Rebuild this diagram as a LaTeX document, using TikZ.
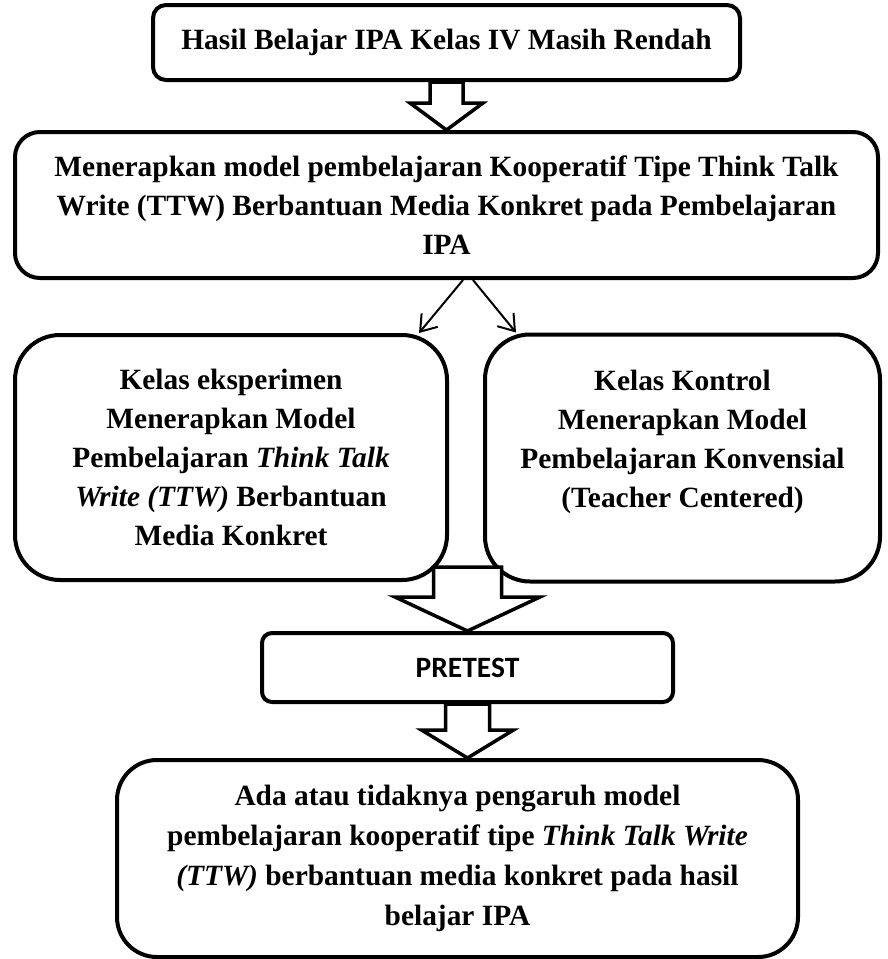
\documentclass[tikz,border=0pt]{standalone}
\usepackage{fontspec}
\setmainfont{Liberation Serif}
\newfontfamily\pretestfont{Carlito}
\usetikzlibrary{arrows.meta,calc}
\tikzset{
  box/.style={draw, line width=4pt, align=center, inner sep=0pt,
    font=\bfseries\fontsize{29.4}{38.8}\selectfont},
  blockarrow/.style={draw, fill=white, line width=3.5pt, line join=miter},
  thinarrow/.style={line width=2pt, -{Straight Barb[length=15pt,width=21pt]}}
}
% #1 top point, #2 tip point, #3 shaft half width, #4 head half width, #5 head length
\newcommand{\blkarrow}[5]{%
  \draw[blockarrow] let \p1=(#1), \p2=(#2) in
    (\x1-#3pt,\y1) -- (\x1+#3pt,\y1) -- (\x1+#3pt,\y2+#5pt) -- (\x1+#4pt,\y2+#5pt)
    -- (\x1,\y2) -- (\x1-#4pt,\y2+#5pt) -- (\x1-#3pt,\y2+#5pt) -- cycle;}
\begin{document}
\begin{tikzpicture}[x=1pt,y=-1pt]
\useasboundingbox (0,0) rectangle (888,959);

\node[box, rounded corners=13pt, minimum width=587pt, minimum height=75pt] (b1) at (446.5,42.5)
  {Hasil Belajar IPA Kelas IV Masih Rendah};

\node[box, rounded corners=25pt, minimum width=863pt, minimum height=146pt] (b2) at (446.5,205)
  {Menerapkan model pembelajaran Kooperatif Tipe Think Talk\\Write (TTW) Berbantuan Media Konkret pada Pembelajaran\\IPA};

\node[box, rounded corners=45pt, minimum width=432pt, minimum height=245pt] (b3) at (231,457.5)
  {Kelas eksperimen\\Menerapkan Model\\Pembelajaran \textit{Think Talk}\\\textit{Write (TTW)} Berbantuan\\Media Konkret};

\node[box, rounded corners=45pt, minimum width=395pt, minimum height=247pt] (b4) at (682.5,458)
  {Kelas Kontrol\\Menerapkan Model\\Pembelajaran Konvensial\\(Teacher Centered)\\\mbox{}};

\node[box, rounded corners=10pt, minimum width=411pt, minimum height=69pt,
  font=\pretestfont\bfseries\fontsize{29.5}{33}\selectfont] (pt) at (467.5,667.5) {PRETEST};

\node[box, rounded corners=40pt, minimum width=681pt, minimum height=197pt,
  font=\bfseries\fontsize{29.4}{40}\selectfont] (b6) at (457.5,858.5)
  {Ada atau tidaknya pengaruh model\\pembelajaran kooperatif tipe \textit{Think Talk Write}\\\textit{(TTW)} berbantuan media konkret pada hasil\\belajar IPA};

\coordinate (a2top) at (467.5,567);
\blkarrow{b1.south}{b2.north}{16.5}{36.5}{27}
\blkarrow{a2top}{pt.north}{34}{72.5}{34}
\blkarrow{pt.south}{b6.north}{22}{46}{28}

\coordinate (s1) at ($(b2.south)+(16.5,0)$);
\coordinate (s2) at ($(b2.south)+(26.5,0)$);
\coordinate (e1) at ($(b3.north east)+(-30,0)$);
\coordinate (e2) at ($(b4.north west)+(33,0)$);
\draw[thinarrow] (s1) -- (e1);
\draw[thinarrow] (s2) -- (e2);
\end{tikzpicture}
\end{document}
